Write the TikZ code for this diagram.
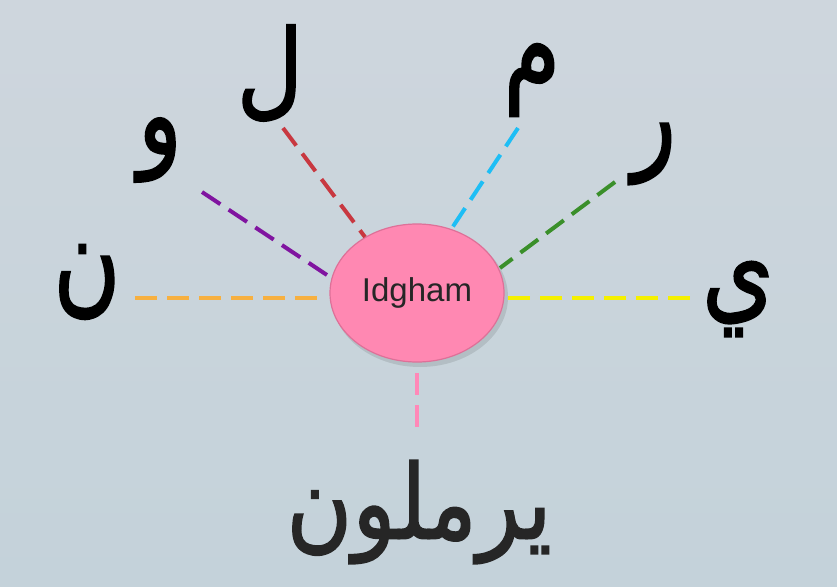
\documentclass[tikz,border=0pt]{standalone}
\usepackage{graphicx}
\usepackage{fontspec}
\setmainfont{Liberation Sans}
\newfontfamily\arabicfont[Script=Arabic, FakeBold=1.5]{DejaVu Sans}
\TeXXeTstate=1
\usetikzlibrary{shapes.geometric}
\definecolor{bgtop}{RGB}{206,214,221}
\definecolor{bgbot}{RGB}{196,210,218}
\definecolor{pinkfill}{RGB}{255,136,178}
\definecolor{pinkedge}{RGB}{222,112,152}
\definecolor{cOrange}{RGB}{247,176,64}
\definecolor{cPurple}{RGB}{128,20,160}
\definecolor{cRed}{RGB}{200,56,64}
\definecolor{cBlue}{RGB}{30,190,245}
\definecolor{cGreen}{RGB}{58,143,42}
\definecolor{cYellow}{RGB}{245,240,0}
\definecolor{cPink}{RGB}{255,136,184}
\definecolor{txtdark}{RGB}{38,38,38}
\newcommand{\tallar}[2]{\scalebox{1}[#1]{\beginR #2\endR}}
\tikzset{
  letter/.style={inner sep=0pt, text=black, font=\arabicfont\fontsize{92}{100}\selectfont},
  word/.style={inner sep=0pt, text=txtdark, font=\arabicfont\fontsize{90}{100}\selectfont},
  link/.style={line width=4pt, dash pattern=on 22pt off 10pt},
}
\begin{document}
\begin{tikzpicture}[x=1pt,y=-1pt]
\useasboundingbox (0,0) rectangle (837,586);
\fill[top color=bgtop, bottom color=bgbot] (0,0) rectangle (837,586);
% shadow of ellipse
\fill[black, opacity=0.10] (420,297) ellipse [x radius=88, y radius=70];
\node[ellipse, draw=pinkedge, line width=1.2pt, fill=pinkfill, minimum width=174pt, minimum height=138pt, inner sep=0pt,
      font=\fontsize{33}{36}\selectfont, text=txtdark] (idg) at (417,293) {Idgham};
% letters
\node[letter] (nun) at (87,282) {\tallar{1.3}{ن}};
\node[letter] (waw) at (160,150) {\tallar{1.25}{و}};
\node[letter] (lam) at (270,73) {\tallar{1.15}{ل}};
\node[letter] (mim) at (532,80) {\tallar{1.3}{م}};
\node[letter] (ra) at (654,154) {\tallar{1.3}{ر}};
\node[letter] (ya) at (738,299) {\tallar{1.25}{ي}};
\node[word] (yrmlwn) at (419,512) {\tallar{1.15}{يرملون}};
% connector endpoints
\coordinate (nunE) at (135,298); \coordinate (nunI) at (319,298);
\coordinate (wawE) at (202,192); \coordinate (wawI) at (330,277);
\coordinate (lamE) at (283,128); \coordinate (lamI) at (365,237);
\coordinate (mimE) at (518,128); \coordinate (mimI) at (452,228);
\coordinate (raE) at (615,182);  \coordinate (raI) at (500,268);
\coordinate (yaE) at (692,298);  \coordinate (yaI) at (508,298);
\coordinate (wdE) at (417,427);  \coordinate (wdI) at (417,373);
\draw[link, cOrange] (nunE) -- (nunI);
\draw[link, cPurple] (wawE) -- (wawI);
\draw[link, cRed] (lamE) -- (lamI);
\draw[link, cBlue] (mimE) -- (mimI);
\draw[link, cGreen] (raE) -- (raI);
\draw[link, cYellow] (yaI) -- (yaE);
\draw[link, cPink] (wdI) -- (wdE);
\end{tikzpicture}
\end{document}
